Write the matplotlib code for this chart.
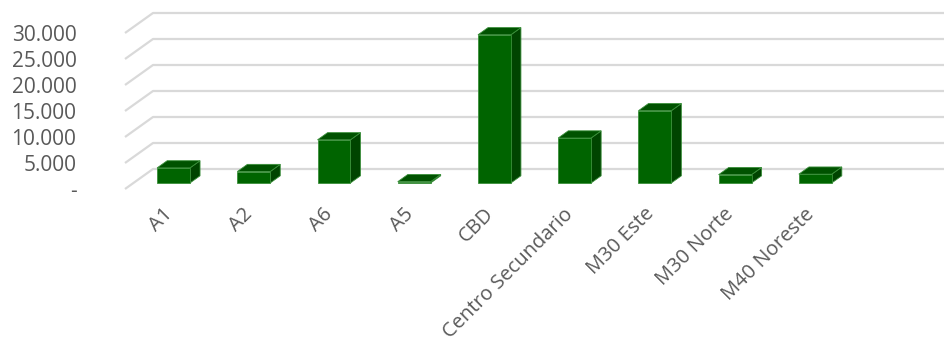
import matplotlib
matplotlib.use("Agg")
import matplotlib.pyplot as plt
from matplotlib.patches import Polygon
import numpy as np

categories = ["A1", "A2", "A6", "A5", "CBD", "Centro Secundario",
              "M30 Este", "M30 Norte", "M40 Noreste"]
values = [2900, 2200, 8300, 250, 28500, 8650, 13900, 1600, 1700]
y_ticks = [0, 5000, 10000, 15000, 20000, 25000, 30000]

# oblique projection: one unit of depth moves a point right and up
DX = 0.349
DY = 3846
BAR_W = 0.41
D0, D1 = 0.3, 0.66

FRONT = "#006400"
TOP = "#005200"
SIDE = "#004400"
EDGE = "#3a8f3a"
GRID = "#d9d9d9"
TEXT = "#595959"


def proj(x, v, d):
    return (x + d * DX, v + d * DY)


fig = plt.figure(figsize=(9.44, 3.47), dpi=100)
ax = fig.add_axes([125 / 944, 158 / 347, 722 / 944, 156 / 347])
ax.set_xlim(-0.5, 8.5)
ax.set_ylim(0, 30000)
for s in ax.spines.values():
    s.set_visible(False)

# side wall and back wall gridlines
for g in y_ticks:
    p0 = proj(-0.5, g, 0)
    p1 = proj(-0.5, g, 1)
    p2 = proj(12, g, 1)
    ax.plot([p0[0], p1[0], p2[0]], [p0[1], p1[1], p2[1]], color=GRID,
            lw=1.6, clip_on=False, zorder=1, solid_capstyle="butt")

for i, v in enumerate(values):
    x0, x1 = i - BAR_W / 2, i + BAR_W / 2
    front = [proj(x0, 0, D0), proj(x1, 0, D0), proj(x1, v, D0), proj(x0, v, D0)]
    top = [proj(x0, v, D0), proj(x1, v, D0), proj(x1, v, D1), proj(x0, v, D1)]
    side = [proj(x1, 0, D0), proj(x1, 0, D1), proj(x1, v, D1), proj(x1, v, D0)]
    for pts, col in ((side, SIDE), (top, TOP), (front, FRONT)):
        ax.add_patch(Polygon(pts, closed=True, facecolor=col, edgecolor=EDGE,
                             lw=0.6, clip_on=False, zorder=3))

ax.set_yticks(y_ticks)
ax.set_yticklabels(["-" if t == 0 else f"{t:,}".replace(",", ".") for t in y_ticks])
ax.set_xticks(np.arange(len(categories)) + D0 * DX - 0.05)
ax.set_xticklabels(categories, rotation=45, ha="right", va="center",
                   rotation_mode="anchor")
ax.tick_params(axis="y", length=0, pad=35, labelsize=15, labelcolor=TEXT)
ax.tick_params(axis="x", length=0, pad=16, labelsize=14.5, labelcolor=TEXT)
for lab in ax.get_xticklabels() + ax.get_yticklabels():
    lab.set_fontfamily("Open Sans")

fig.savefig("out.png", dpi=100)
